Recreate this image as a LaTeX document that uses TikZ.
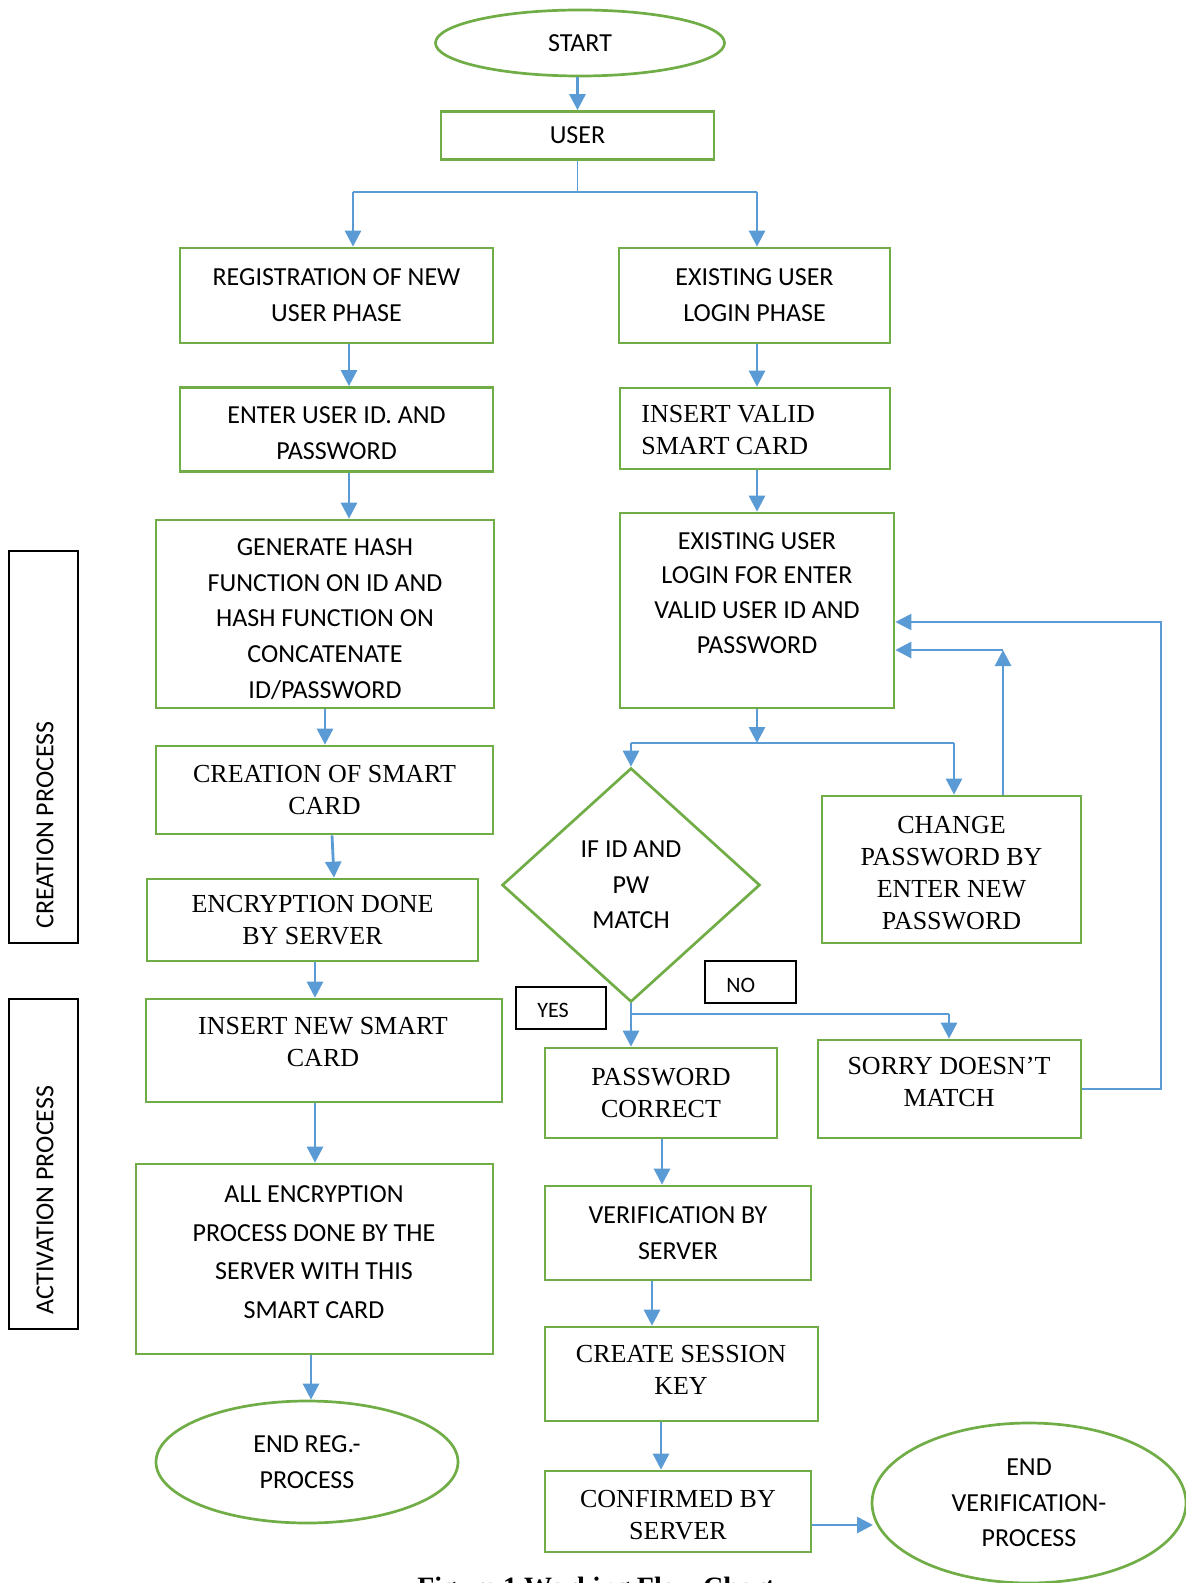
\documentclass[tikz,border=0pt]{standalone}
\usepackage{fontspec}
\usetikzlibrary{arrows.meta,shapes.geometric}
\newfontfamily\sansfnt{Carlito}
\newfontfamily\seriffnt{Liberation Serif}
\definecolor{gr}{HTML}{70AD47}
\definecolor{bl}{HTML}{5B9BD5}
\tikzset{
  sfont/.style={font=\sansfnt\fontsize{13}{17.85}\selectfont},
  rfont/.style={font=\seriffnt\fontsize{13}{16}\selectfont},
  box/.style={draw=gr, line width=1.35pt, inner sep=0pt, align=center},
  oval/.style={draw=gr, line width=1.35pt, ellipse, inner sep=0pt, align=center},
  lblbox/.style={draw=black, line width=0.75pt, inner sep=0pt},
  sidebox/.style={draw=black, line width=0.6pt, inner sep=0pt},
  arr/.style={draw=bl, line width=1.4pt, -{Triangle[length=8pt,width=8pt]}},
  thinl/.style={draw=bl, line width=0.65pt},
  medl/.style={draw=bl, line width=1.1pt},
  looparr/.style={draw=bl, line width=1.1pt, -{Triangle[length=8pt,width=8pt]}}
}
\begin{document}
\begin{tikzpicture}[x=0.5pt,y=-0.5pt]
\useasboundingbox (0,0) rectangle (1186,1583);

% ---- left column and top ----
\node[oval, sfont, minimum width=144.5pt, minimum height=33pt] (start) at (580,43) {START};
\node[box, sfont, minimum width=136.5pt, minimum height=24pt] (user) at (577.5,135.5) {USER};
\node[box, sfont, minimum width=156.5pt, minimum height=47.5pt] (reg) at (336.5,295.5) {REGISTRATION OF NEW\\USER PHASE};
\node[box, sfont, minimum width=135.5pt, minimum height=47.5pt] (exist) at (754.5,295.5) {EXISTING USER\\LOGIN PHASE};
\node[box, minimum width=156.5pt, minimum height=42pt] (enter) at (336.5,429.5) {};
\node[sfont, align=center] (entert) at (336.5,433) {ENTER USER ID. AND\\PASSWORD};
\node[box, minimum width=135pt, minimum height=40.5pt] (insvalid) at (755,428.5) {};
\node[rfont, anchor=west, align=left, inner sep=0pt] (insvalidt) at (641,430) {INSERT VALID\\SMART CARD};
\node[box, minimum width=169pt, minimum height=94pt] (gen) at (325,614) {};
\node[sfont, align=center] (gent) at (325,619) {GENERATE HASH\\FUNCTION ON ID AND\\HASH FUNCTION ON\\CONCATENATE\\ID/PASSWORD};
\node[box, minimum width=137pt, minimum height=97.5pt] (exlogin) at (757,610.5) {};
\node[font=\sansfnt\fontsize{13}{17.4}\selectfont, align=center] (exlogint) at (757,593) {EXISTING USER\\LOGIN FOR ENTER\\VALID USER ID AND\\PASSWORD};
\node[box, rfont, minimum width=168.5pt, minimum height=44pt] (creat) at (324.5,790) {CREATION OF SMART\\CARD};
\node[box, rfont, minimum width=165.5pt, minimum height=41pt] (encr) at (312.5,920) {ENCRYPTION DONE\\BY SERVER};
\node[box, minimum width=178pt, minimum height=51.5pt] (insnew) at (324,1050.5) {};
\node[rfont, align=center] (insnewt) at (323,1042) {INSERT NEW SMART\\CARD};
\node[box, minimum width=178.5pt, minimum height=95pt] (allenc) at (314.5,1259) {};
\node[font=\sansfnt\fontsize{13}{19.3}\selectfont, align=center] (allenct) at (314,1252) {ALL ENCRYPTION\\PROCESS DONE BY THE\\SERVER WITH THIS\\SMART CARD};
\node[oval, sfont, minimum width=151pt, minimum height=61pt] (endreg) at (307,1462) {END REG.-\\PROCESS};

% ---- right column ----
\node[draw=gr, line width=1.35pt, diamond, inner sep=0pt, minimum width=129pt, minimum height=117pt, sfont, align=center] (dia) at (631,885) {IF ID AND\\PW\\MATCH};
\node[box, minimum width=129.5pt, minimum height=73.5pt] (change) at (951.5,869.5) {};
\node[rfont, align=center] (changet) at (951.5,873) {CHANGE\\PASSWORD BY\\ENTER NEW\\PASSWORD};
\node[lblbox, minimum width=45pt, minimum height=21pt] (yesb) at (561,1008) {};
\node[font=\sansfnt\fontsize{11}{13}\selectfont, anchor=base west, inner sep=0pt] (yest) at (537,1017) {YES};
\node[lblbox, minimum width=45.5pt, minimum height=21pt] (nob) at (750.5,982) {};
\node[font=\sansfnt\fontsize{11}{13}\selectfont, anchor=base west, inner sep=0pt] (not) at (726,992) {NO};
\node[box, minimum width=131.5pt, minimum height=49pt] (sorry) at (949.5,1089) {};
\node[rfont, align=center] (sorryt) at (949,1082) {SORRY DOESN’T\\MATCH};
\node[box, rfont, minimum width=116pt, minimum height=45pt] (passc) at (661,1093) {PASSWORD\\CORRECT};
\node[box, sfont, minimum width=133pt, minimum height=47pt] (verif) at (678,1233) {VERIFICATION BY\\SERVER};
\node[box, minimum width=136.5pt, minimum height=47pt] (session) at (681.5,1374) {};
\node[rfont, align=center] (sessiont) at (681,1370) {CREATE SESSION\\KEY};
\node[box, minimum width=133pt, minimum height=40.5pt] (confirmed) at (678,1511.5) {};
\node[rfont, align=center] (confirmedt) at (678,1515) {CONFIRMED BY\\SERVER};
\node[oval, sfont, minimum width=157pt, minimum height=80pt] (endverif) at (1029,1503) {END\\VERIFICATION-\\PROCESS};

% ---- side labels ----
\node[sidebox, minimum width=34.5pt, minimum height=196pt] (sidec) at (43.5,747) {};
\node[sfont, rotate=90] (sidect) at (45,825) {CREATION PROCESS};
\node[sidebox, minimum width=34.5pt, minimum height=165pt] (sidea) at (43.5,1164) {};
\node[sfont, rotate=90] (sideat) at (45,1200) {ACTIVATION PROCESS};

\node[font=\seriffnt\bfseries\fontsize{14}{16}\selectfont, anchor=base, inner sep=0pt] (cap) at (596,1596) {Figure 1 Working Flow Chart};

% ---- helper coordinates ----
\coordinate (jl) at (353,192);
\coordinate (jr) at (757,192);
\coordinate (xa) at (349,0);
\coordinate (xb) at (325,0);
\coordinate (xc1) at (332,0);
\coordinate (xc2) at (334,0);
\coordinate (xd) at (315,0);
\coordinate (xe) at (311,0);
\coordinate (xf) at (757,0);
\coordinate (sp) at (757,743);
\coordinate (spl) at (631,743);
\coordinate (spr) at (954,743);
\coordinate (cu) at (1003,650);
\coordinate (db) at (631,1014);
\coordinate (dbr) at (949,1014);
\coordinate (lp) at (1161,622);
\coordinate (xg) at (662,0);
\coordinate (xh) at (652,0);
\coordinate (xi) at (661,0);
\coordinate (cv) at (873,1525);

% ---- connectors ----
\draw[arr] (user.north |- start.south) -- (user.north);
\draw[thinl] (user.south) -- (user.south |- jl);
\draw[thinl] (jl) -- (jr);
\draw[arr] (jl) -- (jl |- reg.north);
\draw[arr] (jr) -- (jr |- exist.north);

\draw[arr] (xa |- reg.south) -- (xa |- enter.north);
\draw[arr] (xa |- enter.south) -- (xa |- gen.north);
\draw[arr] (xb |- gen.south) -- (xb |- creat.north);
\draw[arr] (xc1 |- creat.south) -- (xc2 |- encr.north);
\draw[arr] (xd |- encr.south) -- (xd |- insnew.north);
\draw[arr] (xd |- insnew.south) -- (xd |- allenc.north);
\draw[arr] (xe |- allenc.south) -- (xe |- endreg.north);

\draw[arr] (xf |- exist.south) -- (xf |- insvalid.north);
\draw[arr] (xf |- insvalid.south) -- (xf |- exlogin.north);
\draw[arr] (xf |- exlogin.south) -- (sp);
\draw[thinl] (spl) -- (spr);
\draw[arr] (spl) -- (dia.north);
\draw[arr] (spr) -- (spr |- change.north);
\draw[arr] (cu |- change.north) -- (cu);
\draw[arr] (cu) -- (cu -| exlogin.east);

\draw[arr] (dia.south) -- (dia.south |- passc.north);
\draw[medl] (db) -- (dbr);
\draw[arr] (dbr) -- (dbr |- sorry.north);
\draw[looparr] (sorry.east) -| (lp) -- (lp -| exlogin.east);

\draw[arr] (xg |- passc.south) -- (xg |- verif.north);
\draw[arr] (xh |- verif.south) -- (xh |- session.north);
\draw[arr] (xi |- session.south) -- (xi |- confirmed.north);
\draw[arr] (cv -| confirmed.east) -- (cv);
\end{tikzpicture}
\end{document}
